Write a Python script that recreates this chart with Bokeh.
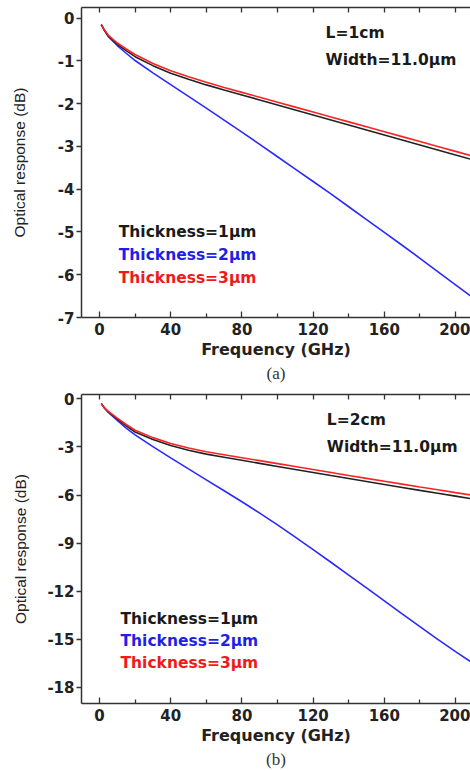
from bokeh.plotting import figure
from bokeh.layouts import column
from bokeh.models import (LinearAxis, FixedTicker, Range1d, Title, ColumnDataSource)
from bokeh.core.properties import value
from bokeh.embed import file_html
from bokeh.resources import INLINE

# ---------------- data ----------------
freq = [1, 3, 5, 10, 15, 20, 30, 40, 50, 60, 70, 80, 90, 100, 110, 120,
        130, 140, 150, 160, 170, 180, 190, 200, 210]

# (a) L = 1 cm
a_t1 = [-0.15, -0.30, -0.42, -0.61, -0.76, -0.90, -1.11, -1.29, -1.43, -1.56, -1.68, -1.795,
        -1.912, -2.029, -2.146, -2.263, -2.38, -2.497, -2.614, -2.731, -2.848, -2.965, -3.082, -3.199, -3.316]
a_t2 = [-0.15, -0.30, -0.43, -0.64, -0.82, -0.99, -1.28, -1.555, -1.83, -2.105, -2.385, -2.665,
        -2.95, -3.24, -3.53, -3.82, -4.11, -4.41, -4.71, -5.01, -5.31, -5.615, -5.925, -6.235, -6.545]
a_t3 = [-0.15, -0.29, -0.40, -0.58, -0.72, -0.85, -1.06, -1.23, -1.37, -1.50, -1.62, -1.735,
        -1.85, -1.965, -2.08, -2.195, -2.31, -2.425, -2.54, -2.655, -2.77, -2.885, -3.00, -3.115, -3.23]

# (b) L = 2 cm
b_t1 = [-0.30, -0.60, -0.82, -1.27, -1.69, -2.07, -2.54, -2.91, -3.21, -3.45, -3.645, -3.835,
        -4.025, -4.215, -4.405, -4.595, -4.785, -4.97, -5.155, -5.34, -5.525, -5.71, -5.89, -6.07, -6.25]
b_t2 = [-0.30, -0.60, -0.85, -1.35, -1.83, -2.25, -2.98, -3.68, -4.37, -5.05, -5.73, -6.42,
        -7.13, -7.86, -8.62, -9.40, -10.19, -10.99, -11.79, -12.60, -13.41, -14.21, -15.00, -15.77, -16.50]
b_t3 = [-0.30, -0.58, -0.78, -1.20, -1.60, -1.96, -2.42, -2.78, -3.07, -3.30, -3.485, -3.67,
        -3.855, -4.04, -4.225, -4.41, -4.595, -4.777, -4.96, -5.14, -5.32, -5.50, -5.675, -5.85, -6.02]

x_major = [0, 40, 80, 120, 160, 200]
x_minor = [20, 60, 100, 140, 180]
a_yticks = [0, -1, -2, -3, -4, -5, -6, -7]
a_ylabels = ["0", "-1", "-2", "-3", "-4", "-5", "-6", "-7"]
b_yticks = [0, -3, -6, -9, -12, -15, -18]
b_ylabels = ["0", "-3", "-6", "-9", "-12", "-15", "-18"]

series_labels = ["Thickness=1\u03bcm", "Thickness=2\u03bcm", "Thickness=3\u03bcm"]
line_colors = ["#222222", "#2a2aff", "#ff2222"]
text_colors = ["#1a1a1a", "#1f1fe6", "#f01a1a"]

BOLD = "DejaVu Sans"
AX = "#333333"


def make_panel(ys, yticks, ylabels, yrange, info, info_pos, legend_pos, tag,
               height, top_border, bottom_border, left_border, ylab_standoff):
    p = figure(width=470, height=height, output_backend="svg", toolbar_location=None,
               x_range=Range1d(-10.1, 208.4), y_range=Range1d(*yrange),
               min_border_left=left_border, min_border_right=0,
               min_border_top=top_border, min_border_bottom=bottom_border)
    p.outline_line_color = None
    p.grid.visible = False
    p.background_fill_color = "white"
    p.border_fill_color = "white"

    # bottom axis
    xa = p.xaxis[0]
    xa.ticker = FixedTicker(ticks=x_major, minor_ticks=x_minor)
    xa.major_tick_in = 6
    xa.major_tick_out = 0
    xa.minor_tick_in = 4
    xa.minor_tick_out = 0
    xa.axis_line_width = 1.5
    xa.axis_line_color = AX
    xa.major_tick_line_color = AX
    xa.minor_tick_line_color = AX
    xa.major_tick_line_width = 1.3
    xa.minor_tick_line_width = 1.3
    xa.major_label_text_font = BOLD
    xa.major_label_text_font_style = "bold"
    xa.major_label_text_font_size = "15px"
    xa.major_label_text_color = "#222222"
    xa.major_label_standoff = 5
    xa.axis_label = "Frequency (GHz)"
    xa.axis_label_text_font = BOLD
    xa.axis_label_text_font_style = "bold"
    xa.axis_label_text_font_size = "16px"
    xa.axis_label_text_color = "#222222"
    xa.axis_label_standoff = 2

    # top axis (ticks only, no labels)
    ta = LinearAxis(ticker=FixedTicker(ticks=x_major, minor_ticks=x_minor),
                    major_label_overrides={t: "" for t in x_major},
                    major_label_standoff=0,
                    major_tick_in=5, major_tick_out=0, minor_tick_in=5, minor_tick_out=0,
                    axis_line_width=1.5, axis_line_color=AX,
                    major_tick_line_color=AX, minor_tick_line_color=AX,
                    major_tick_line_width=1.3, minor_tick_line_width=1.3)
    p.add_layout(ta, "above")

    # left axis
    ya = p.yaxis[0]
    ya.ticker = FixedTicker(ticks=yticks)
    ya.major_label_overrides = dict(zip(yticks, ylabels))
    ya.major_tick_in = 0
    ya.major_tick_out = 5
    ya.minor_tick_in = 0
    ya.minor_tick_out = 0
    ya.axis_line_width = 1.5
    ya.axis_line_color = AX
    ya.major_tick_line_color = AX
    ya.major_tick_line_width = 1.3
    ya.major_label_text_font = BOLD
    ya.major_label_text_font_style = "bold"
    ya.major_label_text_font_size = "15px"
    ya.major_label_text_color = "#222222"
    ya.major_label_standoff = 2
    ya.axis_label = "Optical response (dB)"
    ya.axis_label_text_font = "Liberation Sans"
    ya.axis_label_text_font_style = "normal"
    ya.axis_label_text_font_size = "15.5px"
    ya.axis_label_text_color = "#222222"
    ya.axis_label_standoff = ylab_standoff

    # curves: blue, black, red (red on top)
    for idx in [1, 0, 2]:
        src = ColumnDataSource(dict(x=freq, y=ys[idx]))
        p.line("x", "y", source=src, line_color=line_colors[idx], line_width=1.6)

    # info text
    p.text(x=[info_pos[0], info_pos[0]], y=[info_pos[1], info_pos[2]], text=info,
           text_font=value(BOLD), text_font_style="bold", text_font_size="15.5px",
           text_color="#1a1a1a", text_baseline="middle", text_align="left")

    # legend-like labels
    p.text(x=[legend_pos[0]] * 3, y=legend_pos[1], text=series_labels,
           text_font=value(BOLD), text_font_style="bold", text_font_size="15.5px",
           text_color=text_colors, text_baseline="middle", text_align="left")

    p.add_layout(Title(text=tag, align="center", text_font="Liberation Serif",
                       text_font_style="normal", text_font_size="17px",
                       text_color="#333333", standoff=0), "below")
    return p


pa = make_panel([a_t1, a_t2, a_t3], a_yticks, a_ylabels, (-7.0, 0.25),
                ["L=1cm", "Width=11.0\u03bcm"], (127, -0.35, -0.98),
                (10.8, [-5.01, -5.54, -6.07]), "(a)",
                height=386, top_border=7, bottom_border=69, left_border=81,
                ylab_standoff=27)
pb = make_panel([b_t1, b_t2, b_t3], b_yticks, b_ylabels, (-19.0, 0.27),
                ["L=2cm", "Width=11.0\u03bcm"], (127.7, -1.35, -3.01),
                (11.8, [-13.73, -15.1, -16.49]), "(b)",
                height=385, top_border=8, bottom_border=68, left_border=79,
                ylab_standoff=15)

layout = column(pa, pb, spacing=0)
open("out.html", "w").write(file_html(layout, INLINE))
